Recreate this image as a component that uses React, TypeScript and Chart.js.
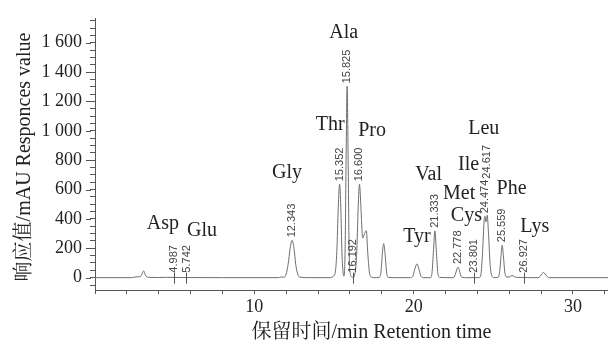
import React, { useEffect, useRef } from "react";
import { Chart, registerables } from "chart.js";

Chart.register(...registerables);

// Chromatogram trace: retention time (min) and detector response (mAU)
const traceTime = [
  0, 2.3, 2.5, 2.7, 2.85, 2.95, 3.05, 3.15, 3.25, 3.4, 4.0, 4.5, 5.5, 8.0,
  11.5, 11.7, 11.85, 12.0, 12.12, 12.25, 12.37, 12.49, 12.6, 12.72, 12.85, 13.5,
  14.8, 14.95, 15.07, 15.18, 15.27, 15.352, 15.43, 15.5, 15.58, 15.63, 15.7, 15.76,
  15.825, 15.89, 15.95, 16.02, 16.12, 16.2, 16.3, 16.42, 16.52, 16.6, 16.7, 16.8,
  16.92, 17.03, 17.12, 17.22, 17.32, 17.5, 17.85, 17.95, 18.04, 18.12, 18.2, 18.3,
  18.4, 19.0, 19.8, 19.95, 20.08, 20.21, 20.33, 20.46, 20.6, 21.05, 21.15, 21.25,
  21.333, 21.42, 21.52, 21.62, 22.4, 22.55, 22.68, 22.778, 22.88, 23.0, 23.2, 24.1,
  24.22, 24.33, 24.42, 24.474, 24.54, 24.617, 24.7, 24.8, 24.92, 25.05, 25.3, 25.4,
  25.48, 25.559, 25.64, 25.72, 25.82, 26.0, 26.18, 26.3, 26.45, 27.8, 27.95, 28.06,
  28.16, 28.26, 28.38, 28.55, 32.2,
];
const traceResponse = [
  0, 0, 4, 6, 8, 25, 46, 20, 6, 2, 1, 2, 1, 0,
  0, 5, 3, 25, 90, 200, 254, 200, 90, 25, 4, 0,
  0, 10, 30, 180, 480, 636, 480, 170, 30, 10, 200, 800,
  1303, 800, 200, 30, 5, 3, 20, 150, 480, 636, 460, 270,
  300, 320, 170, 40, 5, 0, 2, 40, 170, 232, 170, 40,
  2, 0, 0, 10, 60, 94, 60, 10, 0, 0, 30, 190,
  319, 190, 30, 2, 0, 5, 45, 72, 45, 5, 0, 0,
  20, 180, 380, 418, 380, 425, 300, 90, 10, 0, 3, 40,
  140, 221, 140, 40, 5, 5, 15, 8, 2, 0, 10, 28,
  35, 25, 8, 0, 0,
];

// Integrated peaks: retention time and apex response (0 = marker only)
const peakRetention = [
  "4.987", "5.742", "12.343", "15.352", "15.825", "16.192", "16.600",
  "21.333", "22.778", "23.801", "24.474", "24.617", "25.559", "26.927",
];
const peakApex = [0, 0, 254, 636, 1303, 0, 636, 319, 72, 0, 418, 425, 221, 0];

// Amino acid names, anchored at (time, response)
const aminoAcids = [
  "Asp", "Glu", "Gly", "Thr", "Ala", "Pro", "Val",
  "Tyr", "Met", "Cys", "Ile", "Leu", "Phe", "Lys",
];
const aminoTime = [4.26, 6.72, 12.05, 14.77, 15.61, 17.39, 20.94, 20.21, 22.86, 23.31, 23.45, 24.4, 26.15, 27.6];
const aminoResponse = [334, 286, 680, 1007, 1634, 963, 662, 243, 537, 385, 734, 981, 570, 308];

// Axis labels
const xTickLabels = [10, 20, 30];
const yTickValues = [0, 200, 400, 600, 800, 1000, 1200, 1400, 1600];
const yTickLabels = ["0", "200", "400", "600", "800", "1 000", "1 200", "1 400", "1 600"];
const xTitle = "保留时间/min Retention time";
const yTitle = "响应值/mAU Responces value";

const SERIF = '"Liberation Serif", "Times New Roman", "Noto Serif CJK SC", "Noto Sans CJK SC", serif';
const SANS = '"Liberation Sans", Arial, sans-serif';

const annotationPlugin = {
  id: "chromAnnotations",
  afterDatasetsDraw(chart: any) {
    const { ctx, scales } = chart;
    const xs = scales.x;
    const ys = scales.y;
    const base = ys.getPixelForValue(0);

    // retention time labels, rotated, stacked when they collide
    ctx.save();
    ctx.font = `11px ${SANS}`;
    ctx.fillStyle = "#444";
    ctx.strokeStyle = "#555";
    ctx.lineWidth = 1;
    const placed: { x: number; top: number; bottom: number }[] = [];
    peakRetention.forEach((label, i) => {
      const t = parseFloat(label);
      const px = xs.getPixelForValue(t);
      const w = ctx.measureText(label).width;
      let bottom: number;
      if (peakApex[i] <= 0) {
        ctx.beginPath();
        ctx.moveTo(Math.round(px) + 0.5, base - 5);
        ctx.lineTo(Math.round(px) + 0.5, base + 6);
        ctx.stroke();
        bottom = base - 5;
      } else {
        bottom = ys.getPixelForValue(peakApex[i]) - 3;
      }
      let top = bottom - w;
      for (const p of placed) {
        if (Math.abs(p.x - px) < 9 && top < p.bottom && bottom > p.top) {
          bottom = p.top - 1;
          top = bottom - w;
        }
      }
      placed.push({ x: px, top, bottom });
      ctx.save();
      ctx.translate(px, bottom);
      ctx.rotate(-Math.PI / 2);
      ctx.textAlign = "left";
      ctx.textBaseline = "middle";
      ctx.fillText(label, 0, 0);
      ctx.restore();
    });
    ctx.restore();

    // amino acid names
    ctx.save();
    ctx.font = `20px ${SERIF}`;
    ctx.fillStyle = "#222";
    ctx.textAlign = "center";
    ctx.textBaseline = "alphabetic";
    aminoAcids.forEach((name, i) => {
      ctx.fillText(name, xs.getPixelForValue(aminoTime[i]), ys.getPixelForValue(aminoResponse[i]));
    });
    ctx.restore();
  },
  afterDraw(chart: any) {
    const { ctx, scales, chartArea } = chart;
    const ys = scales.y;
    ctx.save();
    // longer ticks at labelled values
    ctx.strokeStyle = "#555";
    ctx.lineWidth = 1;
    yTickValues.forEach((v) => {
      const py = Math.round(ys.getPixelForValue(v)) + 0.5;
      ctx.beginPath();
      ctx.moveTo(chartArea.left - 9, py);
      ctx.lineTo(chartArea.left - 4, py);
      ctx.stroke();
    });
    // axis titles
    ctx.fillStyle = "#222";
    ctx.font = `20px ${SERIF}`;
    ctx.textAlign = "center";
    ctx.textBaseline = "middle";
    ctx.fillText(xTitle, (chartArea.left + chartArea.right) / 2 + 20, 333);
    ctx.translate(25, 157);
    ctx.rotate(-Math.PI / 2);
    ctx.fillText(yTitle, 0, 0);
    ctx.restore();
  },
};

export default function App() {
  const canvasRef = useRef<HTMLCanvasElement | null>(null);

  useEffect(() => {
    const canvas = canvasRef.current;
    if (!canvas) return;
    const points = traceTime.map((t, i) => ({ x: t, y: traceResponse[i] }));
    const chart = new Chart(canvas, {
      type: "line",
      data: {
        datasets: [
          {
            data: points,
            borderColor: "#6e6e6e",
            borderWidth: 1,
            pointRadius: 0,
            cubicInterpolationMode: "monotone",
            fill: false,
          },
        ],
      },
      options: {
        responsive: false,
        animation: false,
        devicePixelRatio: 1,
        layout: { padding: { top: 8, left: 0, right: 0, bottom: 0 } },
        plugins: {
          legend: { display: false },
          tooltip: { enabled: false },
          title: { display: false },
        },
        scales: {
          x: {
            type: "linear",
            min: 0,
            max: 32.2,
            ticks: {
              stepSize: 2,
              includeBounds: false,
              autoSkip: false,
              maxRotation: 0,
              padding: 2,
              color: "#222",
              font: { family: SERIF, size: 18 },
              callback: (v: any) => (xTickLabels.includes(Number(v)) ? String(v) : ""),
            },
            grid: { drawOnChartArea: false, tickLength: 4, color: "#555", tickColor: "#555" },
            border: { color: "#555", width: 1 },
            afterFit: (s: any) => {
              s.height = 55;
            },
          },
          y: {
            type: "linear",
            min: -84,
            max: 1763,
            ticks: {
              stepSize: 50,
              includeBounds: false,
              autoSkip: false,
              padding: 8,
              color: "#222",
              font: { family: SERIF, size: 18 },
              callback: (v: any) => {
                const i = yTickValues.indexOf(Math.round(Number(v)));
                return i >= 0 ? yTickLabels[i] : "";
              },
            },
            grid: { drawOnChartArea: false, tickLength: 5, color: "#555", tickColor: "#555" },
            border: { color: "#555", width: 1 },
            afterFit: (s: any) => {
              s.width = 95;
            },
          },
        },
      },
      plugins: [annotationPlugin],
    } as any);
    return () => chart.destroy();
  }, []);

  return (
    <div style={{ position: "absolute", left: 0, top: 0, width: 608, height: 345, background: "#fff" }}>
      <canvas ref={canvasRef} width={608} height={345} style={{ display: "block" }} />
    </div>
  );
}
